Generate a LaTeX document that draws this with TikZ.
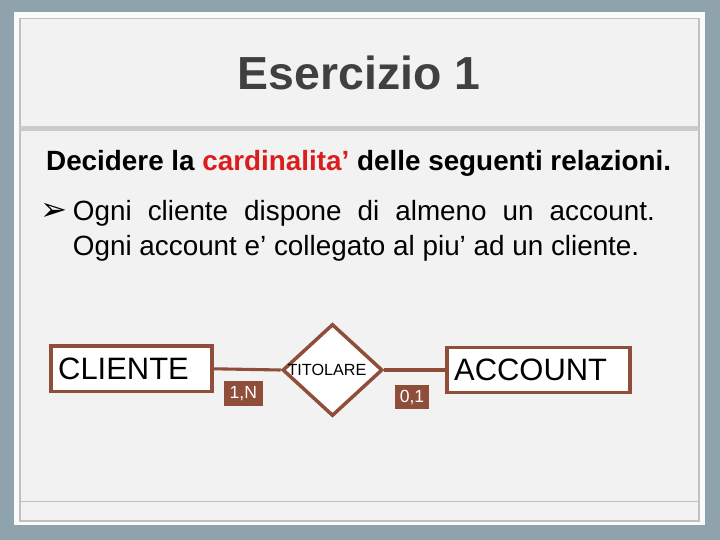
\documentclass[tikz,border=0pt]{standalone}
\usepackage{fontspec}
\setmainfont{Liberation Sans}
\newfontfamily\arrowfont{DejaVu Sans}
\usetikzlibrary{shapes.geometric}
\begin{document}
\begin{tikzpicture}[
    entity/.style={shape=rectangle,draw=er_brown,line width=2.5pt,fill=white,minimum height=1.13cm,inner xsep=0.18cm,inner ysep=0pt,align=left,font=\fontsize{22}{26}\selectfont},
    cardbox/.style={shape=rectangle,fill=er_brown,text=white,minimum height=0.62cm,inner sep=0pt,font=\fontsize{12.5}{14}\selectfont},
    link/.style={draw=er_brown,line width=2.2pt}]
    \definecolor{slide_bg}{RGB}{143,163,173}
    \definecolor{slide_panel}{RGB}{250,250,250}
    \definecolor{slide_inner}{RGB}{242,242,242}
    \definecolor{slide_frame}{RGB}{194,194,188}
    \definecolor{slide_rule}{RGB}{202,203,203}
    \definecolor{slide_title}{RGB}{64,64,64}
    \definecolor{card_red}{RGB}{218,30,30}
    \definecolor{er_brown}{RGB}{142,78,58}
    \useasboundingbox (0,0) rectangle (18,13.5);
    \fill[slide_bg] (0,0) rectangle (18,13.5);
    \fill[slide_panel] (0.35,0.3625) rectangle (17.625,13.1875);
    \draw[line width=1.4pt,draw=slide_frame,fill=slide_inner] (0.5,0.475) rectangle (17.475,13.0375);
    \draw[line width=3.5pt,slide_rule] (0.5,10.2875) to (17.475,10.2875);
    \draw[line width=1.4pt,slide_frame] (0.5,0.9625) to (17.475,0.9625);
    \node[anchor=base,text=slide_title,font=\fontsize{33}{40}\selectfont\bfseries] (title) at (8.975,11.25) {Esercizio 1};
    \node[anchor=base west,font=\fontsize{19.8}{24}\selectfont\bfseries] (task) at (1.03,9.225) {Decidere la \textcolor{card_red}{cardinalita'} delle seguenti relazioni.};
    \node[font=\arrowfont\fontsize{23}{25}\selectfont] (arrow) at (1.35,8.2) {➢};
    \node[anchor=base west,font=\fontsize{19.8}{24}\selectfont] (line1) at (1.7,7.975) {\makebox[414pt][s]{Ogni cliente dispone di almeno un account.}};
    \node[anchor=base west,font=\fontsize{19.8}{24}\selectfont] (line2) at (1.7,7.1) {Ogni account e' collegato al piu' ad un cliente.};
    \node[entity,text width=3.665cm] (cliente) at (3.2875,4.28) {CLIENTE};
    \node[entity,text width=4.215cm] (account) at (13.4625,4.25) {ACCOUNT};
    \node[shape=diamond,draw=er_brown,line width=2.5pt,fill=white,minimum width=2.5cm,minimum height=2.3cm,inner sep=0pt] (titolare) at (8.3125,4.25) {};
    \node[font=\fontsize{11.5}{13}\selectfont] (titolare_txt) at (8.175,4.25) {TITOLARE};
    \draw[link] (cliente.east) to (titolare.west);
    \draw[link] (titolare.east) to (account.west);
    \node[cardbox,minimum width=0.97cm] (card_cli) at (6.0825,3.6675) {1,N};
    \node[cardbox,minimum width=0.85cm] (card_acc) at (10.3,3.575) {0,1};
\end{tikzpicture}
\end{document}
